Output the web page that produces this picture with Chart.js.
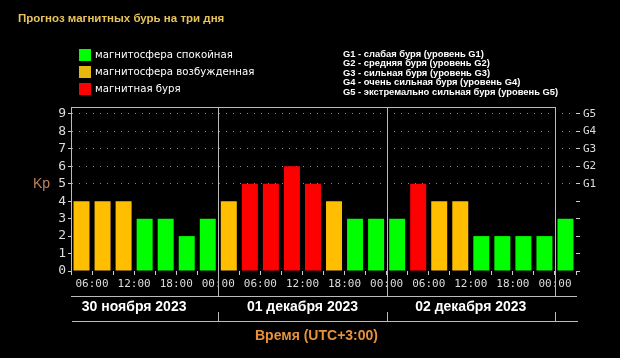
<!DOCTYPE html>
<html>
<head>
<meta charset="utf-8">
<script src="https://cdn.jsdelivr.net/npm/chart.js@4/dist/chart.umd.min.js"></script>
<style>
  html, body { margin: 0; padding: 0; background: #000; }
  canvas { display: block; }
</style>
</head>
<body>
<canvas id="kp-chart" width="620" height="358"></canvas>
<script>
// 3-hour slots, 30 Nov 03:00 .. 03 Dec 03:00 (UTC+3)
const slotStarts = [
  '03:00', '06:00', '09:00', '12:00', '15:00', '18:00', '21:00',
  '00:00', '03:00', '06:00', '09:00', '12:00', '15:00', '18:00', '21:00',
  '00:00', '03:00', '06:00', '09:00', '12:00', '15:00', '18:00', '21:00',
  '00:00'
];
const kpValues = [
  4, 4, 4, 3, 3, 2, 3,
  4, 5, 5, 6, 5, 4, 3, 3,
  3, 5, 4, 4, 2, 2, 2, 2,
  3
];
const kpTicks = [0, 1, 2, 3, 4, 5, 6, 7, 8, 9];
const stormTicks = ['', '', '', '', '', 'G1', 'G2', 'G3', 'G4', 'G5'];
const dayLabels = ['30 ноября 2023', '01 декабря 2023', '02 декабря 2023'];
const dayCenters = [12, 36, 60];     // hours from 30 Nov 00:00
const dayBounds = [24, 48, 72];
const hourStart = 3;
const hourEnd = 75;

const legendLabels = ['магнитосфера спокойная', 'магнитосфера возбужденная', 'магнитная буря'];
const legendColors = ['#00ff00', '#e6b80c', '#ff0000'];
const stormLegend = [
  'G1 - слабая буря (уровень G1)',
  'G2 - средняя буря (уровень G2)',
  'G3 - сильная буря (уровень G3)',
  'G4 - очень сильная буря (уровень G4)',
  'G5 - экстремально сильная буря (уровень G5)'
];
const chartTitle = 'Прогноз магнитных бурь на три дня';
const axisTitle = 'Время (UTC+3:00)';

const barColor = (kp) => kp >= 5 ? '#ff0000' : (kp === 4 ? '#ffbf00' : '#00ff00');
const pad2 = (n) => String(n).padStart(2, '0');

const decor = {
  id: 'decor',
  afterDraw(chart) {
    const { ctx, chartArea: a, scales } = chart;
    const xt = scales.xt;
    const xd = scales.xd;
    const line = (x1, y1, x2, y2) => {
      ctx.beginPath(); ctx.moveTo(x1, y1); ctx.lineTo(x2, y2); ctx.stroke();
    };
    ctx.save();
    ctx.strokeStyle = '#bbbbbb';
    ctx.lineWidth = 1;

    // frame top + day separators
    const lastX = Math.round(xt.getPixelForValue(dayBounds[dayBounds.length - 1])) + 0.5;
    line(a.left, Math.round(a.top) + 0.5, lastX, Math.round(a.top) + 0.5);
    dayBounds.forEach((h) => {
      const x = Math.round(xt.getPixelForValue(h)) + 0.5;
      line(x, a.top, x, xd.top);
      line(x, xd.top + 16, x, xd.top + 25);
    });
    line(a.left + 1, xd.top + 25.5, a.right + 2, xd.top + 25.5);

    // title
    ctx.textBaseline = 'middle';
    ctx.textAlign = 'left';
    ctx.fillStyle = '#e8c25a';
    ctx.font = 'bold 11.5px "Liberation Sans"';
    ctx.fillText(chartTitle, 18, 19);

    // colour legend
    ctx.font = '10.2px "DejaVu Sans"';
    legendLabels.forEach((t, i) => {
      ctx.fillStyle = legendColors[i];
      ctx.fillRect(79, 49 + i * 17, 12, 12);
      ctx.fillStyle = '#ffffff';
      ctx.fillText(t, 95, 55.5 + i * 17);
    });

    // storm level legend
    ctx.font = 'bold 9.4px "Liberation Sans"';
    ctx.fillStyle = '#ffffff';
    stormLegend.forEach((t, i) => ctx.fillText(t, 343, 54 + i * 9.6));

    // Kp
    ctx.font = '14px "Liberation Sans"';
    ctx.fillStyle = '#c0835a';
    ctx.fillText('Kp', 33, scales.y.getPixelForValue(5));

    // time axis title
    ctx.font = 'bold 14px "Liberation Sans"';
    ctx.fillStyle = '#e8913a';
    ctx.textAlign = 'center';
    ctx.fillText(axisTitle, (a.left + a.right) / 2 - 7, xd.top + 40);
    ctx.restore();
  }
};

new Chart(document.getElementById('kp-chart'), {
  type: 'bar',
  data: {
    labels: slotStarts,
    datasets: [{
      data: kpValues,
      backgroundColor: kpValues.map(barColor),
      borderWidth: 0,
      categoryPercentage: 1,
      barPercentage: 0.76,
      xAxisID: 'x',
      yAxisID: 'y'
    }]
  },
  options: {
    responsive: false,
    animation: false,
    devicePixelRatio: 1,
    layout: { padding: { top: 107, left: 0, right: 0, bottom: 0 } },
    plugins: { legend: { display: false }, tooltip: { enabled: false }, title: { display: false } },
    scales: {
      x: { type: 'category', display: false, offset: true },
      xt: {
        type: 'linear', position: 'bottom', min: hourStart, max: hourEnd, offset: false,
        afterBuildTicks: (s) => {
          const t = [];
          for (let h = hourStart; h <= hourEnd; h += 3) t.push({ value: h });
          s.ticks = t;
        },
        afterFit: (s) => { s.height = 25; },
        ticks: {
          autoSkip: false, maxRotation: 0, padding: 3, color: '#dddddd',
          font: { family: 'DejaVu Sans Mono', size: 11 },
          callback: (v) => v % 6 === 0 ? pad2(v % 24) + ':00' : ''
        },
        grid: { offset: false, drawOnChartArea: false, drawTicks: true, tickLength: 4, tickColor: '#cccccc' },
        border: { display: false }
      },
      xd: {
        type: 'linear', position: 'bottom', min: hourStart, max: hourEnd, offset: false,
        afterBuildTicks: (s) => { s.ticks = dayCenters.map((v) => ({ value: v })); },
        afterFit: (s) => { s.height = 62; },
        ticks: {
          autoSkip: false, maxRotation: 0, padding: 3, color: '#ffffff',
          font: { family: 'Liberation Sans', size: 14, weight: 'bold' },
          callback: (v, i) => dayLabels[i]
        },
        grid: { display: false, drawTicks: false, tickLength: 0, offset: false },
        border: { display: true, color: '#bbbbbb' }
      },
      y: {
        position: 'left', min: 0, max: 9.4,
        afterBuildTicks: (s) => { s.ticks = kpTicks.map((v) => ({ value: v })); },
        afterFit: (s) => { s.width = 71; },
        ticks: {
          autoSkip: false, padding: 2, color: '#dddddd',
          font: { family: 'DejaVu Sans Mono', size: 13 }
        },
        grid: {
          color: (c) => c.tick && c.tick.value >= 5 ? '#8a8a8a' : 'rgba(0,0,0,0)',
          tickColor: '#cccccc', tickLength: 3, lineWidth: 1
        },
        border: { display: true, color: '#bbbbbb', dash: [1, 6] }
      },
      y2: {
        position: 'right', min: 0, max: 9.4,
        afterBuildTicks: (s) => { s.ticks = kpTicks.map((v) => ({ value: v })); },
        afterFit: (s) => { s.width = 44; },
        ticks: {
          autoSkip: false, padding: 3, color: '#dddddd',
          font: { family: 'DejaVu Sans Mono', size: 11 },
          callback: (v, i) => stormTicks[i]
        },
        grid: { drawOnChartArea: false, tickColor: '#cccccc', tickLength: 4 },
        border: { display: false }
      }
    }
  },
  plugins: [decor]
});
</script>
</body>
</html>
